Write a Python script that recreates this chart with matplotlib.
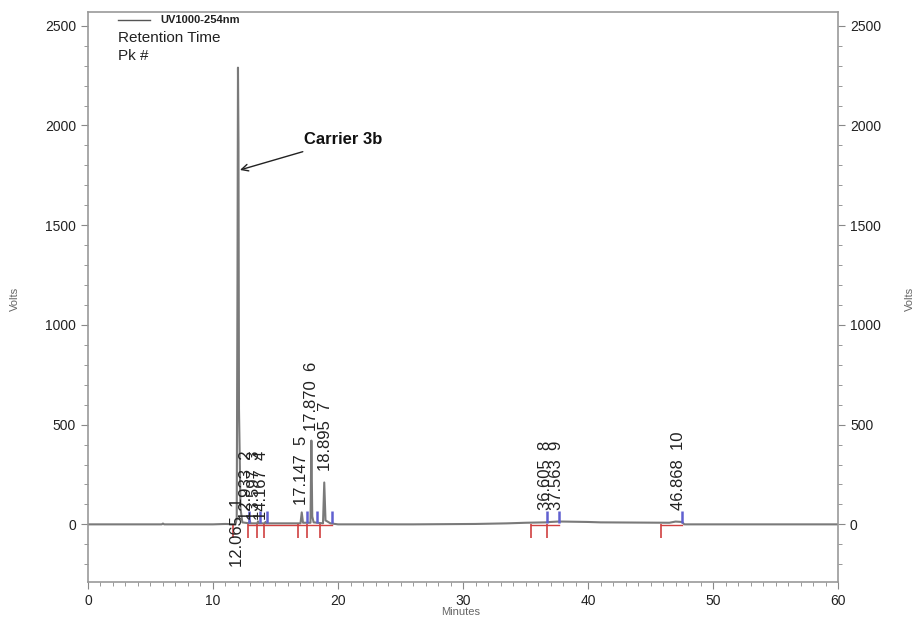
import numpy as np
import matplotlib.pyplot as plt
from matplotlib.ticker import MultipleLocator

plt.rcParams['font.family'] = ['Liberation Sans', 'DejaVu Sans']

# chromatogram trace (minutes, volts)
trace_t = [0, 5.9, 6.0, 6.1, 10.0, 11.0, 11.8, 11.9, 11.96, 12.0, 12.04, 12.08, 12.12, 12.2,
           12.35, 12.9, 12.95, 13.0, 13.55, 13.6, 13.65, 14.15, 14.2, 14.25, 17.0, 17.1, 17.2,
           17.8, 17.87, 17.94, 18.05, 18.8, 18.9, 19.0, 19.4, 20.0, 25.0, 26.0, 31.0, 33.5,
           35.0, 36.6, 37.0, 37.6, 38.0, 40.0, 41.0, 46.5, 47.0, 47.5, 47.7, 55.0, 60.0]
trace_v = [0, 0, 4, 0, 0, 2, 0, 30, 1210, 2290, 1910, 580, 420, 80,
           10, 5, 18, 5, 5, 15, 5, 5, 12, 5, 5, 60, 8,
           8, 420, 40, 10, 5, 210, 20, 5, 0, 0, 0, 2, 5,
           8, 10, 12, 14, 14, 12, 10, 8, 14, 12, 0, 0, 0]

# peak labels
pk_rt = [12.065, 12.933, 13.597, 14.167, 17.147, 17.870, 18.895, 36.605, 37.563, 46.868]
pk_num = [1, 2, 3, 4, 5, 6, 7, 8, 9, 10]
pk_lab_x = [12.0, 12.72, 13.35, 13.9, 17.1, 17.9, 18.96, 36.56, 37.5, 47.2]
pk_lab_y = [-215, 20, 20, 20, 95, 470, 270, 70, 70, 70]

# integration start/end markers
start_t = [11.6, 12.8, 13.5, 14.1, 16.8, 17.5, 18.6, 35.4, 36.7, 45.8]
end_t = [12.9, 13.8, 14.3, 17.5, 18.3, 19.5, 36.7, 37.7, 47.5]
base_segs = [(12.8, 19.5), (35.4, 37.7), (45.8, 47.5)]

fig = plt.figure(figsize=(9.16, 6.22), dpi=100)
ax = fig.add_axes([0.096, 0.064, 0.819, 0.917])

ax.plot(trace_t, trace_v, color='#7a7a7a', lw=1.5)

for a, b in base_segs:
    ax.plot([a, b], [-3, -3], color='#d04040', lw=1)
ax.vlines(start_t, -70, 0, color='#d04040', lw=1.2)
ax.vlines(end_t, 5, 65, color='#6060d0', lw=1.8)

for x, y, rt, n in zip(pk_lab_x, pk_lab_y, pk_rt, pk_num):
    ax.text(x, y, f"{rt:.3f}  {n}", rotation=90, ha='center', va='bottom',
            fontsize=12, color='#222222')

ax.annotate("Carrier 3b", xy=(12.16, 1777), xytext=(17.3, 1928),
            fontsize=12, fontweight='bold', color='#111111',
            family=['Liberation Sans Narrow', 'Liberation Sans'],
            va='center', ha='left',
            arrowprops=dict(arrowstyle='->', color='#222222', lw=1,
                            shrinkA=4, shrinkB=0))

ax.set_xlim(0, 60)
ax.set_ylim(-290, 2570)
ax.xaxis.set_major_locator(MultipleLocator(10))
ax.xaxis.set_minor_locator(MultipleLocator(1))
ax.yaxis.set_major_locator(MultipleLocator(500))
ax.yaxis.set_minor_locator(MultipleLocator(100))
ax.tick_params(which='both', direction='out', colors='#888888', labelcolor='#222222',
               labelsize=10, right=True, labelright=True, top=False)
ax.tick_params(which='major', length=5)
ax.tick_params(which='minor', length=3)
for s in ax.spines.values():
    s.set_color('#999999')
    s.set_linewidth(1.2)

fig.text(0.503, 0.008, "Minutes", fontsize=8, color='#666666', ha='center', va='bottom')
fig.text(0.016, 0.52, "Volts", fontsize=8, color='#666666', rotation=90, ha='center', va='center')
fig.text(0.993, 0.52, "Volts", fontsize=8, color='#666666', rotation=90, ha='center', va='center')

# legend-like header
ax.plot([2.4, 5.0], [2530, 2530], color='#555555', lw=1)
ax.text(5.8, 2530, "UV1000-254nm", fontsize=8, fontweight='bold', va='center', color='#222222')
ax.text(2.4, 2440, "Retention Time", fontsize=11, va='center', color='#222222')
ax.text(2.4, 2350, "Pk #", fontsize=11, va='center', color='#222222')

fig.savefig("out.png", dpi=100)
